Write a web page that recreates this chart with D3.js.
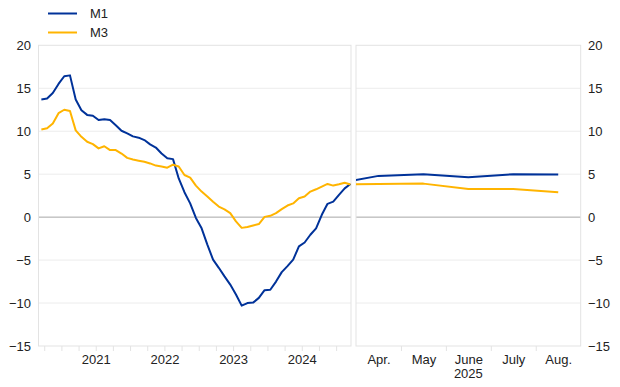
<!DOCTYPE html>
<html><head><meta charset="utf-8">
<script src="https://cdn.jsdelivr.net/npm/d3@7"></script>
<style>body{margin:0;background:#fff}svg{display:block;font-family:"Liberation Sans",Arial,sans-serif}</style>
</head><body><svg id="c" width="620" height="387"></svg>
<script>
// Monthly history, Sep 2020 .. Mar 2025 (annual growth rates, %)
const histStart = "2020-09";
const m1Hist = [13.7,13.8,14.45,15.5,16.4,16.5,13.7,12.45,11.9,11.8,11.3,11.4,11.3,10.7,10.05,9.75,9.4,9.25,8.97,8.47,8.1,7.4,6.85,6.75,4.5,2.9,1.6,-0.1,-1.3,-3.2,-4.95,-5.9,-6.9,-7.85,-9.0,-10.3,-10.0,-9.95,-9.4,-8.5,-8.45,-7.5,-6.4,-5.7,-4.95,-3.4,-2.95,-2.05,-1.3,0.27,1.55,1.8,2.6,3.35,3.86];
const m3Hist = [10.2,10.35,10.9,12.1,12.5,12.35,10.1,9.35,8.77,8.5,8.0,8.25,7.8,7.8,7.4,6.9,6.7,6.57,6.45,6.25,6.0,5.9,5.75,6.1,5.9,4.9,4.6,3.67,2.97,2.4,1.8,1.23,0.9,0.46,-0.5,-1.25,-1.15,-0.97,-0.8,0.03,0.15,0.46,0.93,1.35,1.6,2.2,2.4,2.97,3.24,3.55,3.86,3.67,3.82,4.0,3.8];
const yearLabels = ["2021","2022","2023","2024"];
// Recent months 2025
const recentMonths = ["Mar.","Apr.","May","June","July","Aug."];
const m1Recent = [3.86,4.8,5.0,4.65,5.0,4.95];
const m3Recent = [3.8,3.85,3.9,3.28,3.28,2.9];
const yTicks = [-15,-10,-5,0,5,10,15,20];
const seriesNames = ["M1","M3"];
const colors = ["#003299","#ffb400"];

const svg = d3.select("#c");
const plotTop = 45.3, plotBottom = 346;
const y = d3.scaleLinear().domain([-15,20]).range([plotBottom, plotTop]);

const xL = d3.scaleLinear().domain([-0.5, 54.1]).range([38.5, 351]);
const xR = d3.scaleLinear().domain([0.5, 5.5]).range([356, 580.7]);

function panel(x, id) {
  const [x0, x1] = x.range();
  const g = svg.append("g");
  g.append("clipPath").attr("id", id).append("rect")
    .attr("x", x0).attr("y", plotTop).attr("width", x1 - x0).attr("height", plotBottom - plotTop);
  g.selectAll(".grid").data(yTicks.filter(d => d !== 0 && d !== -15 && d !== 20)).enter()
    .append("line").attr("x1", x0).attr("x2", x1)
    .attr("y1", d => y(d)).attr("y2", d => y(d))
    .attr("stroke", "#ececec").attr("stroke-width", 1);
  g.append("line").attr("x1", x0).attr("x2", x1).attr("y1", y(0)).attr("y2", y(0))
    .attr("stroke", "#a6a6a6").attr("stroke-width", 1);
  g.append("rect").attr("x", x0).attr("y", plotTop).attr("width", x1 - x0).attr("height", plotBottom - plotTop)
    .attr("fill", "none").attr("stroke", "#e3e3e3").attr("stroke-width", 1);
  return g;
}

const gL = panel(xL, "clipL");
const gR = panel(xR, "clipR");

const lineL = d3.line().x((d, i) => xL(i)).y(d => y(d));
const lineR = d3.line().x((d, i) => xR(i)).y(d => y(d));
[[m1Hist, m1Recent], [m3Hist, m3Recent]].forEach(([h, r], k) => {
  gL.append("path").attr("d", lineL(h)).attr("fill", "none").attr("stroke", colors[k])
    .attr("stroke-width", 2).attr("clip-path", "url(#clipL)").attr("stroke-linejoin", "round");
  gR.append("path").attr("d", lineR(r)).attr("fill", "none").attr("stroke", colors[k])
    .attr("stroke-width", 2).attr("clip-path", "url(#clipR)").attr("stroke-linejoin", "round");
});

const yearCenters = yearLabels.map((d, k) => 3.5 + 12 * k + 6);
const axL = svg.append("g").attr("transform", `translate(0,${plotBottom})`)
  .call(d3.axisBottom(xL).tickValues(yearCenters).tickFormat((d, k) => yearLabels[k]).tickSize(0).tickPadding(9));
const qTicks = d3.range(0.5, 54.1, 3);
svg.append("g").attr("transform", `translate(0,${plotBottom})`)
  .call(d3.axisBottom(xL).tickValues(qTicks).tickFormat("").tickSize(5))
  .call(g => g.select(".domain").remove())
  .selectAll("line").attr("stroke", "#e3e3e3");

const axR = svg.append("g").attr("transform", `translate(0,${plotBottom})`)
  .call(d3.axisBottom(xR).tickValues([1,2,3,4,5]).tickFormat(i => recentMonths[i]).tickSize(0).tickPadding(9));
svg.append("g").attr("transform", `translate(0,${plotBottom})`)
  .call(d3.axisBottom(xR).tickValues([1.5,2.5,3.5,4.5]).tickFormat("").tickSize(5))
  .call(g => g.select(".domain").remove())
  .selectAll("line").attr("stroke", "#e3e3e3");
svg.append("text").attr("x", xR(3)).attr("y", 378).attr("text-anchor", "middle")
  .attr("font-size", 13).attr("fill", "#222").text("2025");

[axL, axR].forEach(a => {
  a.select(".domain").remove();
  a.selectAll("text").attr("font-size", 13).attr("fill", "#222")
    .attr("font-family", '"Liberation Sans",Arial,sans-serif');
});

const ayL = svg.append("g").attr("transform", "translate(31,0)")
  .call(d3.axisLeft(y).tickValues(yTicks).tickSize(0).tickPadding(0));
const ayR = svg.append("g").attr("transform", "translate(588,0)")
  .call(d3.axisRight(y).tickValues(yTicks).tickSize(0).tickPadding(0));
[ayL, ayR].forEach(a => {
  a.select(".domain").remove();
  a.selectAll("text").attr("font-size", 13).attr("fill", "#222")
    .attr("font-family", '"Liberation Sans",Arial,sans-serif');
});

const leg = svg.append("g");
seriesNames.forEach((n, k) => {
  const ly = 13.5 + k * 19;
  leg.append("line").attr("x1", 48).attr("x2", 77).attr("y1", ly).attr("y2", ly)
    .attr("stroke", colors[k]).attr("stroke-width", 2);
  leg.append("text").attr("x", 90).attr("y", ly).attr("dy", "0.35em")
    .attr("font-size", 13).attr("fill", "#222").text(n);
});
</script></body></html>
